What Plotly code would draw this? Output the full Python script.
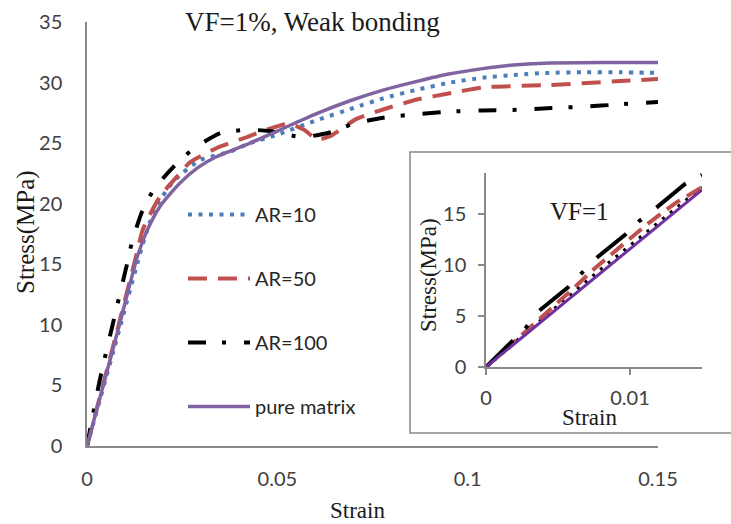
import plotly.graph_objects as go

# ---------------- data: main chart ----------------
strain_pure = [0, 0.0080, 0.0134, 0.0158, 0.0192, 0.0244, 0.0292, 0.0341, 0.0428, 0.0500,
               0.0600, 0.0691, 0.0780, 0.0867, 0.0950, 0.1040, 0.1120, 0.1200, 0.1350, 0.1500]
stress_pure = [0, 9.4, 15.8, 17.8, 19.8, 21.7, 23.0, 23.9, 25.0, 26.0,
               27.4, 28.5, 29.4, 30.1, 30.7, 31.15, 31.45, 31.6, 31.65, 31.65]

strain_ar10 = [0, 0.0070, 0.0144, 0.0160, 0.0184, 0.0229, 0.0297, 0.0376, 0.0428, 0.0500,
               0.0604, 0.0700, 0.0778, 0.0866, 0.0954, 0.1040, 0.1130, 0.1210, 0.1300, 0.1400, 0.1500]
stress_ar10 = [0, 7.9, 16.4, 18.0, 19.9, 21.9, 23.6, 24.3, 25.0, 25.7,
               26.9, 27.9, 28.7, 29.4, 30.0, 30.4, 30.65, 30.8, 30.85, 30.85, 30.8]

strain_ar50 = [0, 0.0075, 0.0130, 0.0147, 0.0192, 0.0244, 0.0270, 0.0341, 0.0420, 0.0480,
               0.0530, 0.0570, 0.0605, 0.0640, 0.0708, 0.0790, 0.0867, 0.0950, 0.1040, 0.1216,
               0.1390, 0.1500]
stress_ar50 = [0, 9.0, 15.8, 17.9, 20.6, 22.5, 23.4, 24.6, 25.5, 26.2,
               26.6, 26.1, 25.3, 25.6, 27.0, 27.9, 28.6, 29.1, 29.6, 29.8,
               30.1, 30.3]

strain_ar100 = [0, 0.0034, 0.0105, 0.0118, 0.0144, 0.0176, 0.0226, 0.0278, 0.0349, 0.0420,
                0.0480, 0.0567, 0.0640, 0.0700, 0.0778, 0.0870, 0.0954, 0.1040, 0.1130, 0.1220,
                0.1300, 0.1400, 0.1500]
stress_ar100 = [0, 5.5, 15.0, 16.8, 19.3, 21.2, 23.0, 24.5, 25.8, 26.1,
                26.0, 25.5, 25.9, 26.6, 27.1, 27.4, 27.6, 27.7, 27.75, 27.9,
                28.0, 28.2, 28.4]

# ---------------- data: inset (VF=1) ----------------
in_strain_pure = [0, 0.015]
in_stress_pure = [0, 17.35]
in_strain_ar10 = [0, 0.008, 0.015]
in_stress_ar10 = [0, 9.6, 17.6]
in_strain_ar50 = [0, 0.002, 0.004, 0.006, 0.0075, 0.0093, 0.0112, 0.0132, 0.015]
in_stress_ar50 = [0, 2.5, 5.1, 7.6, 9.6, 11.7, 14.0, 16.1, 17.6]
in_strain_ar100 = [0, 0.0019, 0.0028, 0.0036, 0.0057, 0.00665, 0.0076, 0.0097, 0.01065, 0.0117, 0.0138, 0.0150]
in_stress_ar100 = [0, 2.6, 3.9, 5.4, 7.8, 9.2, 10.6, 13.0, 14.3, 15.45, 17.9, 18.8]

# ---------------- labels ----------------
series_names = ["AR=10", "AR=50", "AR=100", "pure matrix"]
x_ticks = [0, 0.05, 0.1, 0.15]
x_ticktext = ["0", "0.05", "0.1", "0.15"]
y_ticks = [0, 5, 10, 15, 20, 25, 30, 35]
in_x_ticks = [0, 0.01]
in_x_ticktext = ["0", "0.01"]
in_y_ticks = [0, 5, 10, 15]

BLUE = "#4A7EBB"
RED = "#C0504D"
BLACK = "#000000"
PURPLE = "#8064A2"
PURPLE2 = "#7030A0"
AXIS = "#898989"
TICKFONT = dict(family="Lato", size=20, color="#404040")
SERIF = "Liberation Serif"

fig = go.Figure()

main = [
    (strain_ar10, stress_ar10, BLUE, 4, "4px,6.5px"),
    (strain_ar50, stress_ar50, RED, 4, "19px,11px"),
    (strain_ar100, stress_ar100, BLACK, 4, "18px,16px,4px,18px"),
    (strain_pure, stress_pure, PURPLE, 3.5, "solid"),
]
for name, (xs, ys, col, w, dash) in zip(series_names, main):
    fig.add_trace(go.Scatter(x=xs, y=ys, mode="lines", name=name, legendgroup=name,
                             line=dict(color=col, width=w, dash=dash, shape="spline", smoothing=0.6),
                             xaxis="x", yaxis="y"))

inset = [
    (in_strain_ar10, in_stress_ar10, BLACK, 3.5, "3px,7px"),
    (in_strain_ar50, in_stress_ar50, RED, 4, "16px,8px"),
    (in_strain_ar100, in_stress_ar100, BLACK, 4, "38px,17px,4px,19px"),
    (in_strain_pure, in_stress_pure, PURPLE2, 3, "solid"),
]
for name, (xs, ys, col, w, dash) in zip(series_names, inset):
    fig.add_trace(go.Scatter(x=xs, y=ys, mode="lines", name=name, legendgroup=name,
                             showlegend=False,
                             line=dict(color=col, width=w, dash=dash),
                             xaxis="x2", yaxis="y2"))

W, H = 731, 524
L, R, T, B = 87, 0, 22, 78
PW, PH = W - L - R, H - T - B


def px(xp):
    return (xp - L) / PW


def py(yp):
    return (H - B - yp) / PH


common = dict(showline=True, linecolor=AXIS, linewidth=1.5, showgrid=False, zeroline=False,
              tickfont=TICKFONT, automargin=False)

fig.update_layout(
    width=W, height=H,
    margin=dict(l=L, r=R, t=T, b=B, autoexpand=False),
    paper_bgcolor="white",
    plot_bgcolor="rgba(0,0,0,0)",
    showlegend=True,
    legend=dict(x=px(183), y=py(195), xanchor="left", yanchor="top",
                font=dict(family="Lato", size=20, color="#262626"),
                itemwidth=62,
                tracegroupgap=35, bgcolor="rgba(0,0,0,0)", traceorder="grouped"),
    xaxis=dict(domain=[0, px(658)], range=[0, 0.15], tickvals=x_ticks, ticktext=x_ticktext,
               ticks="", ticklabelstandoff=14, **common),
    yaxis=dict(domain=[0, 1], range=[0, 35], tickvals=y_ticks,
               ticks="", ticklabelstandoff=19, **common),
    xaxis2=dict(domain=[px(486), px(702)], range=[0, 0.015], anchor="y2",
                tickvals=in_x_ticks, ticktext=in_x_ticktext,
                ticks="outside", ticklen=6, tickcolor=AXIS, tickwidth=1.5,
                ticklabelstandoff=6, **common),
    yaxis2=dict(domain=[py(367), py(173)], range=[0, 19], anchor="x2",
                tickvals=in_y_ticks,
                ticks="outside", ticklen=6, tickcolor=AXIS, tickwidth=1.5,
                ticklabelstandoff=8, **common),
    shapes=[dict(type="rect", xref="paper", yref="paper",
                 x0=px(410), x1=px(745), y0=py(433), y1=py(152),
                 line=dict(color=AXIS, width=1.5), fillcolor="rgba(0,0,0,0)", layer="above")],
)

TXT = "#1a1a1a"
annos = [
    dict(text="VF=1%, Weak bonding", x=px(312), y=py(22), size=27, angle=0),
    dict(text="Stress(MPa)", x=px(26), y=py(232), size=25, angle=-90),
    dict(text="Strain", x=px(357), y=py(511), size=23, angle=0),
    dict(text="Stress(MPa)", x=px(428), y=py(275), size=23, angle=-90),
    dict(text="Strain", x=px(589), y=py(417), size=23, angle=0),
    dict(text="VF=1", x=px(579), y=py(212), size=25, angle=0),
]
for a in annos:
    fig.add_annotation(text=a["text"], x=a["x"], y=a["y"], xref="paper", yref="paper",
                       xanchor="center", yanchor="middle", showarrow=False, textangle=a["angle"],
                       font=dict(family=SERIF, size=a["size"], color=TXT))

fig.write_html("out.html")
